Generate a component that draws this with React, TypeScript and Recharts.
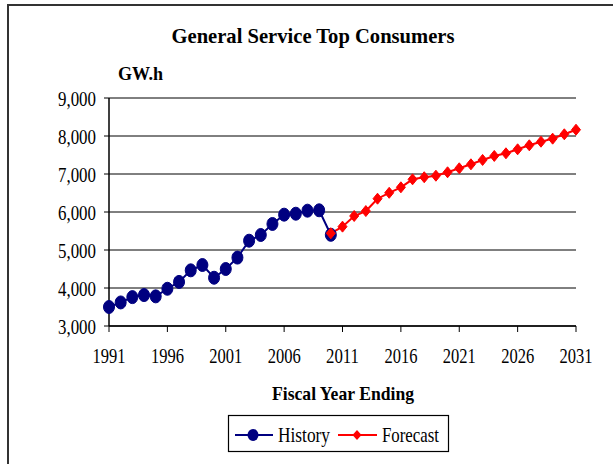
import React from "react";
import { LineChart, Line, XAxis, YAxis, CartesianGrid } from "recharts";

const historyYears = [1991, 1992, 1993, 1994, 1995, 1996, 1997, 1998, 1999, 2000, 2001, 2002, 2003, 2004, 2005, 2006, 2007, 2008, 2009, 2010];
const historyValues = [3500, 3620, 3760, 3815, 3780, 3980, 4160, 4465, 4605, 4270, 4500, 4800, 5245, 5395, 5685, 5930, 5955, 6035, 6045, 5400];
const forecastYears = [2010, 2011, 2012, 2013, 2014, 2015, 2016, 2017, 2018, 2019, 2020, 2021, 2022, 2023, 2024, 2025, 2026, 2027, 2028, 2029, 2030, 2031];
const forecastValues = [5440, 5615, 5895, 6025, 6350, 6505, 6650, 6860, 6915, 6955, 7045, 7150, 7255, 7370, 7475, 7545, 7650, 7755, 7850, 7930, 8045, 8165];
const xTicks = [1991, 1996, 2001, 2006, 2011, 2016, 2021, 2026, 2031];
const yTicks = [3000, 4000, 5000, 6000, 7000, 8000, 9000];

const NAVY = "#000080";
const RED = "#FF0000";
const SERIF = '"Liberation Serif", "Times New Roman", serif';

const allYears = Array.from(new Set([...historyYears, ...forecastYears])).sort((a, b) => a - b);
const data = allYears.map((year) => {
  const hi = historyYears.indexOf(year);
  const fi = forecastYears.indexOf(year);
  return {
    year,
    history: hi >= 0 ? historyValues[hi] : undefined,
    forecast: fi >= 0 ? forecastValues[fi] : undefined,
  };
});

const fmt = (v: number) => v.toLocaleString("en-US");

const YTick = (props: any) => {
  const { x, y, payload } = props;
  return (
    <text x={x - 6} y={y + 7.5} textAnchor="end" fontFamily={SERIF} fontSize={21} fill="#000" textLength={38} lengthAdjust="spacingAndGlyphs">
      {fmt(payload.value)}
    </text>
  );
};

const XTick = (props: any) => {
  const { x, y, payload } = props;
  return (
    <text x={x} y={y + 29} textAnchor="middle" fontFamily={SERIF} fontSize={21} fill="#000" textLength={33} lengthAdjust="spacingAndGlyphs">
      {String(payload.value)}
    </text>
  );
};

const HistoryDot = (props: any) => {
  const { cx, cy, index } = props;
  if (cx == null || cy == null) return <g key={`hd-${index}`} />;
  return <ellipse key={`hd-${index}`} cx={cx} cy={cy} rx={5.5} ry={6.5} fill={NAVY} stroke={NAVY} />;
};

const ForecastDot = (props: any) => {
  const { cx, cy, index } = props;
  if (cx == null || cy == null) return <g key={`fd-${index}`} />;
  const w = 4.5;
  const h = 5.5;
  return (
    <polygon
      key={`fd-${index}`}
      points={`${cx},${cy - h} ${cx + w},${cy} ${cx},${cy + h} ${cx - w},${cy}`}
      fill={RED}
      stroke={RED}
    />
  );
};

export default function App() {
  return (
    <div style={{ position: "absolute", left: 0, top: 0, width: 613, height: 464, background: "#fff", overflow: "hidden" }}>
      <div style={{ position: "absolute", left: 7, top: 4, width: 620, height: 480, borderTop: "2px solid #333", borderLeft: "2px solid #333" }} />
      <div style={{ position: "absolute", left: 0, top: 0 }}>
        <LineChart width={613} height={464} data={data} margin={{ top: 98, right: 37, bottom: 108, left: 49 }}>
          <CartesianGrid vertical={false} stroke="#000" strokeWidth={1} />
          <XAxis
            dataKey="year"
            type="number"
            domain={[1991, 2031]}
            ticks={xTicks}
            interval={0}
            height={30}
            tickSize={6}
            tick={<XTick />}
            axisLine={{ stroke: "#000", strokeWidth: 1.5 }}
            tickLine={{ stroke: "#000" }}
          />
          <XAxis
            xAxisId="top"
            orientation="top"
            dataKey="year"
            type="number"
            domain={[1991, 2031]}
            height={0}
            tick={false}
            tickLine={false}
            axisLine={{ stroke: "#808080", strokeWidth: 2 }}
          />
          <YAxis
            type="number"
            domain={[3000, 9000]}
            ticks={yTicks}
            interval={0}
            width={60}
            tickSize={5}
            tick={<YTick />}
            axisLine={{ stroke: "#000", strokeWidth: 1.5 }}
            tickLine={{ stroke: "#000" }}
          />
          <YAxis
            yAxisId="right"
            orientation="right"
            type="number"
            domain={[3000, 9000]}
            width={0}
            tick={false}
            tickLine={false}
            axisLine={{ stroke: "#808080", strokeWidth: 2 }}
          />
          <Line
            dataKey="history"
            stroke={NAVY}
            strokeWidth={2}
            dot={HistoryDot}
            activeDot={false}
            isAnimationActive={false}
            connectNulls={false}
          />
          <Line
            dataKey="forecast"
            stroke={RED}
            strokeWidth={2}
            dot={ForecastDot}
            activeDot={false}
            isAnimationActive={false}
            connectNulls={false}
          />
        </LineChart>
      </div>
      <svg width={613} height={464} style={{ position: "absolute", left: 0, top: 0, pointerEvents: "none" }}>
        <text x={313} y={43} textAnchor="middle" fontFamily={SERIF} fontWeight="bold" fontSize={22} fill="#000" textLength={283} lengthAdjust="spacingAndGlyphs">
          General Service Top Consumers
        </text>
        <text x={118} y={80} fontFamily={SERIF} fontWeight="bold" fontSize={19} fill="#000" textLength={45} lengthAdjust="spacingAndGlyphs">
          GW.h
        </text>
        <text x={343} y={400} textAnchor="middle" fontFamily={SERIF} fontWeight="bold" fontSize={19} fill="#000" textLength={142} lengthAdjust="spacingAndGlyphs">
          Fiscal Year Ending
        </text>
        <rect x={228.5} y={415.5} width={220} height={36} fill="#fff" stroke="#000" strokeWidth={1.2} />
        <line x1={235} y1={435} x2={273} y2={435} stroke={NAVY} strokeWidth={2} />
        <ellipse cx={253} cy={435} rx={5.5} ry={6} fill={NAVY} />
        <text x={278} y={442} fontFamily={SERIF} fontSize={21} fill="#000" textLength={52} lengthAdjust="spacingAndGlyphs">
          History
        </text>
        <line x1={338} y1={435} x2={377} y2={435} stroke={RED} strokeWidth={2} />
        <polygon points="357,430 361.5,435 357,440 352.5,435" fill={RED} />
        <text x={382} y={442} fontFamily={SERIF} fontSize={21} fill="#000" textLength={57} lengthAdjust="spacingAndGlyphs">
          Forecast
        </text>
      </svg>
    </div>
  );
}
